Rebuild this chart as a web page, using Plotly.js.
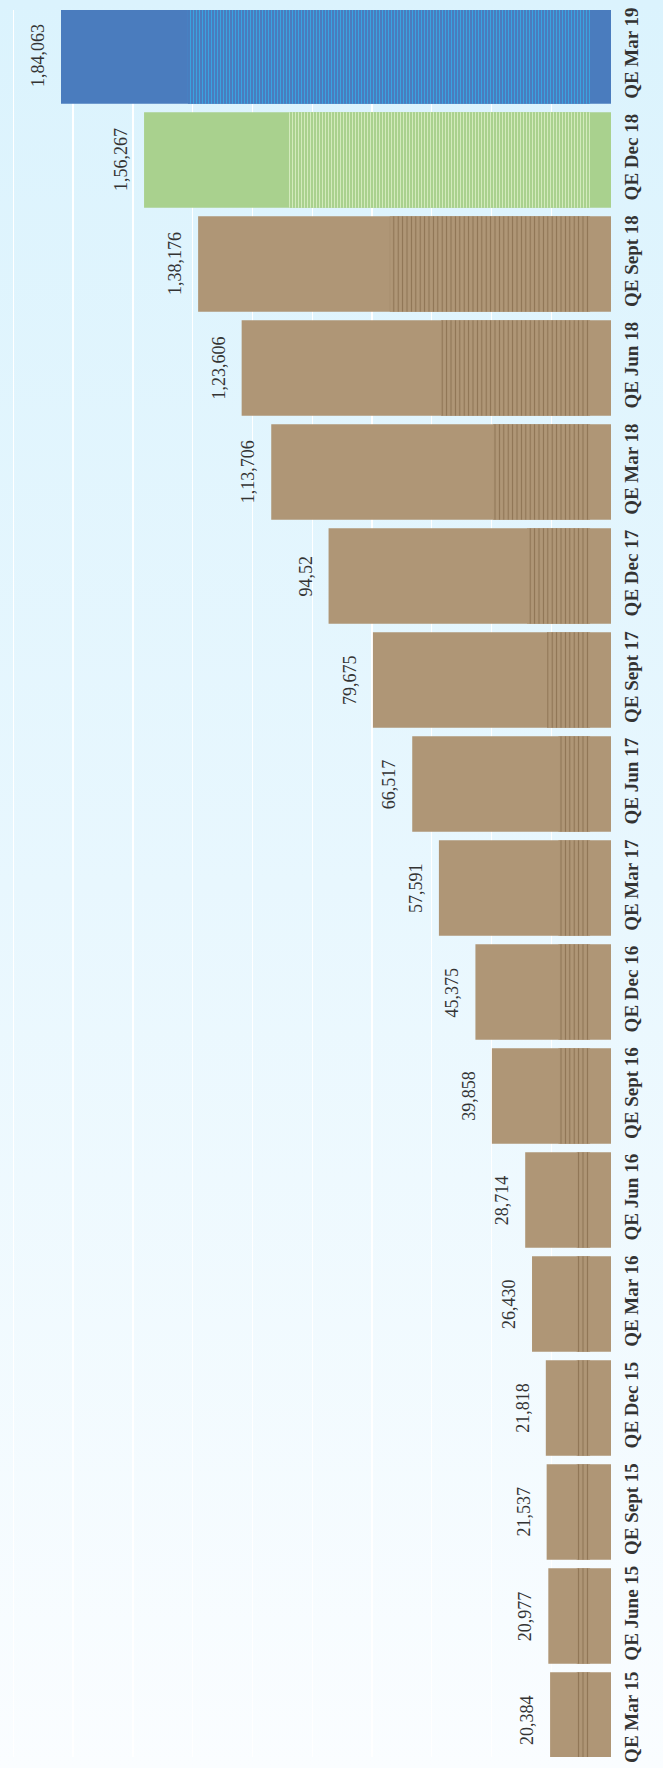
<!DOCTYPE html>
<html>
<head>
<meta charset="utf-8">
<script src="https://cdn.plot.ly/plotly-3.0.1.min.js"></script>
<style>
  html, body { margin: 0; padding: 0; }
  body { width: 663px; height: 1768px; background: linear-gradient(to bottom, #dbf3fd 0%, #e8f7fe 50%, #fafdff 100%); overflow: hidden; }
  #chart { width: 663px; height: 1768px; }
</style>
</head>
<body>
<div id="chart"></div>
<script>
// Categories, top to bottom
const categories = ["QE Mar 19", "QE Dec 18", "QE Sept 18", "QE Jun 18", "QE Mar 18", "QE Dec 17",
  "QE Sept 17", "QE Jun 17", "QE Mar 17", "QE Dec 16", "QE Sept 16", "QE Jun 16", "QE Mar 16",
  "QE Dec 15", "QE Sept 15", "QE June 15", "QE Mar 15"];
// Values
const values = [184063, 156267, 138176, 123606, 113706, 94520, 79675, 66517, 57591, 45375,
  39858, 28714, 26430, 21818, 21537, 20977, 20384];
// Value labels as printed on the chart
const valueLabels = ["1,84,063", "1,56,267", "1,38,176", "1,23,606", "1,13,706", "94,52", "79,675",
  "66,517", "57,591", "45,375", "39,858", "28,714", "26,430", "21,818", "21,537", "20,977", "20,384"];
// Striped texture region of each bar (value units)
const stripeFrom = [7000, 7000, 7000, 7000, 7000, 7000, 7000, 7000, 7000, 7000, 7000, 7000, 7000, 7000, 7000, 7000, 7000];
const stripeTo = [141600, 107800, 74000, 56900, 39500, 28100, 21400, 17600, 17600, 17600, 17600, 11500, 11500, 11500, 11500, 11500, 11500];

const groups = [
  { idx: [0], color: "#4a7cbe", stripe: "#3aa3e0", size: 3, solidity: 0.34 },
  { idx: [1], color: "#a9d18e", stripe: "#d3ebbd", size: 3, solidity: 0.34 },
  { idx: categories.map((c, i) => i).filter(i => i >= 2), color: "#af9676", stripe: "#8e7354", size: 4.4, solidity: 0.25 }
];

const traces = [];
groups.forEach(g => {
  traces.push({
    type: "bar",
    orientation: "h",
    y: g.idx.map(i => categories[i]),
    x: g.idx.map(i => values[i]),
    cliponaxis: false,
    marker: { color: g.color, line: { width: 0 } },
    hoverinfo: "skip"
  });
});
groups.forEach(g => {
  traces.push({
    type: "bar",
    orientation: "h",
    y: g.idx.map(i => categories[i]),
    base: g.idx.map(i => stripeFrom[i]),
    x: g.idx.map(i => stripeTo[i] - stripeFrom[i]),
    cliponaxis: false,
    marker: {
      color: g.color,
      line: { width: 0 },
      pattern: { shape: "|", fgcolor: g.stripe, bgcolor: g.color, size: g.size, solidity: g.solidity, fillmode: "replace" }
    },
    hoverinfo: "skip"
  });
});

const annotations = categories.map((c, i) => ({
  x: values[i],
  y: c,
  xref: "x",
  yref: "y",
  text: valueLabels[i],
  showarrow: false,
  textangle: -90,
  xanchor: "right",
  yanchor: "middle",
  xshift: -11,
  font: { family: "Liberation Serif", size: 18, color: "#333333" }
}));

const layout = {
  width: 663,
  height: 1768,
  margin: { l: 0, r: 52, t: 10, b: 11 },
  paper_bgcolor: "rgba(0,0,0,0)",
  plot_bgcolor: "rgba(0,0,0,0)",
  barmode: "overlay",
  bargap: 0.08,
  showlegend: false,
  annotations: annotations,
  xaxis: {
    range: [204478, 0],
    autorange: false,
    dtick: 20000,
    tick0: 0,
    showgrid: true,
    gridcolor: "#ffffff",
    gridwidth: 1.3,
    zeroline: false,
    showticklabels: false,
    ticks: "",
    showline: false
  },
  yaxis: {
    type: "category",
    categoryorder: "array",
    categoryarray: categories,
    range: [16.356, -0.442],
    autorange: false,
    side: "right",
    tickangle: -90,
    ticks: "",
    ticklabelstandoff: 7,
    showgrid: false,
    zeroline: false,
    showline: false,
    tickfont: { family: "Liberation Serif", size: 19, color: "#333333", weight: "bold" }
  }
};

Plotly.newPlot("chart", traces, layout, { staticPlot: true, displayModeBar: false });
</script>
</body>
</html>
